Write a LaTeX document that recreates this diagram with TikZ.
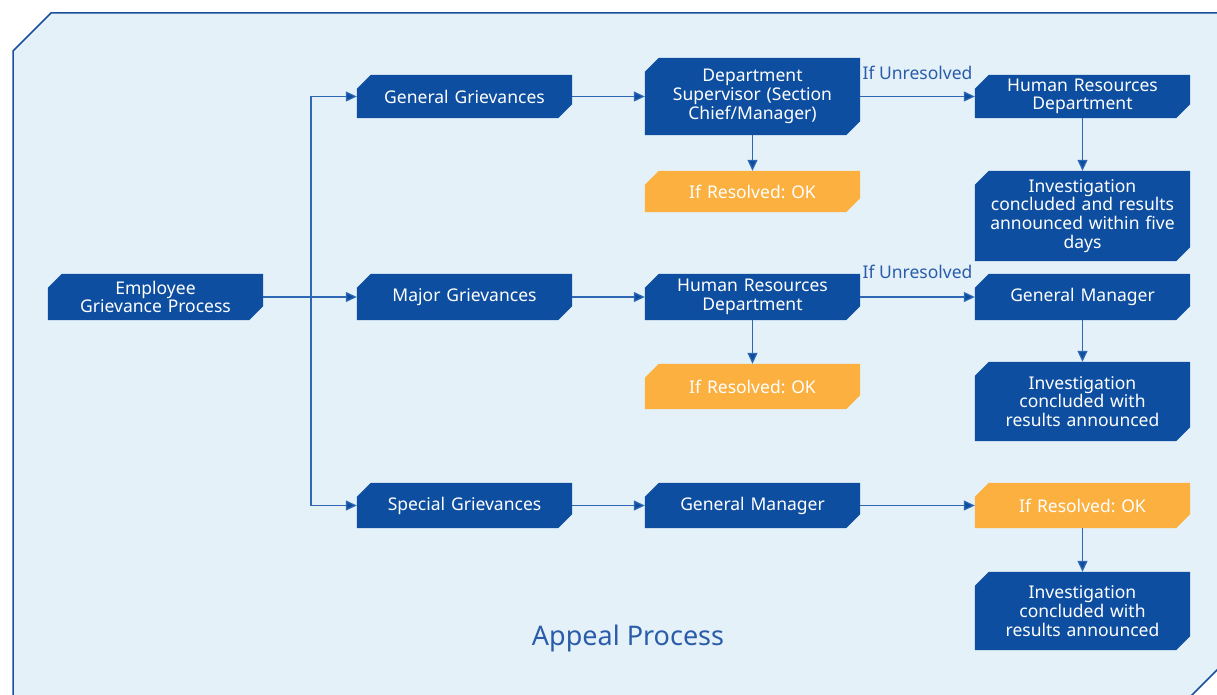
\documentclass[tikz,border=0pt]{standalone}
\usepackage{fontspec}
\setmainfont{Noto Sans}
\frenchspacing
\usetikzlibrary{arrows.meta}
\definecolor{nodeblue}{HTML}{0D4EA0}
\definecolor{okorange}{HTML}{FBB040}
\definecolor{panelfill}{HTML}{E4F1F9}
\definecolor{panelline}{HTML}{1A4F9E}
\definecolor{linkblue}{HTML}{2E67B3}
\definecolor{labelblue}{HTML}{2A5CAA}
\pgfdeclarelayer{panel}
\pgfdeclarelayer{shapes}
\pgfsetlayers{panel,shapes,main}
\tikzset{
  chamfill/.style={append after command={\pgfextra{%
    \begin{pgfonlayer}{shapes}
    \fill[#1] ([xshift=14pt]\tikzlastnode.north west) -- (\tikzlastnode.north east)
      -- ([yshift=14pt]\tikzlastnode.south east) -- ([xshift=-14pt]\tikzlastnode.south east)
      -- (\tikzlastnode.south west) -- ([yshift=-14pt]\tikzlastnode.north west) -- cycle;
    \end{pgfonlayer}}}},
  box/.style={rectangle, chamfill=nodeblue, text=white, minimum width=215pt, text width=210pt,
    align=center, inner sep=0pt, font=\fontsize{17.5}{18.7}\selectfont},
  okbox/.style={rectangle, chamfill=okorange, text=white, minimum width=215pt, text width=210pt,
    align=center, inner sep=0pt, font=\fontsize{17.5}{18.7}\selectfont},
  arr/.style={draw=linkblue, line width=1.2pt, -{Triangle[length=11pt,width=10pt,fill=nodeblue]}},
  lnk/.style={draw=linkblue, line width=1.2pt},
  lbl/.style={text=labelblue, font=\fontsize{17.5}{18.7}\selectfont, inner sep=0pt}
}
\begin{document}
\begin{tikzpicture}[x=1pt,y=-1pt]
\useasboundingbox (0,0) rectangle (1217,695);
\begin{pgfonlayer}{panel}
\begin{scope}
\clip (0,0) rectangle (1217,695);
\filldraw[fill=panelfill, draw=panelline, line width=1.5pt]
  (13,51) -- (51,13) -- (1230,13) -- (1230,657) -- (1167,720) -- (13,720) -- cycle;
\end{scope}
\end{pgfonlayer}

\node[box, minimum height=46pt] (emp) at (155.5,297) {Employee\\Grievance Process};
\node[box, minimum height=43pt] (gen) at (464.5,96.5) {General Grievances};
\node[box, minimum height=46pt] (maj) at (464.5,297) {Major Grievances};
\node[box, minimum height=45pt] (spe) at (464.5,505.5) {Special Grievances};

\node[box, minimum height=77pt] (sup) at (752.5,96.5) {Department\\Supervisor (Section\\Chief/Manager)};
\node[okbox, minimum height=41pt] (ok1) at (752.5,191.5) {If Resolved: OK};
\node[box, minimum height=46pt] (hr2) at (752.5,297) {Human Resources\\Department};
\node[okbox, minimum height=45pt] (ok2) at (752.5,386.5) {If Resolved: OK};
\node[box, minimum height=45pt] (gm2) at (752.5,505.5) {General Manager};

\node[box, minimum height=43pt] (hr1) at (1082.5,96.5) {Human Resources\\Department};
\node[box, minimum height=90pt] (inv1) at (1082.5,216) {Investigation\\concluded and results\\announced within five\\days};
\node[box, minimum height=46pt] (gm1) at (1082.5,297) {General Manager};
\node[box, minimum height=79pt] (inv2) at (1082.5,401.5) {Investigation\\concluded with\\results announced};
\node[okbox, minimum height=45pt] (ok3) at (1082.5,505.5) {If Resolved: OK};
\node[box, minimum height=78pt] (inv3) at (1082.5,611) {Investigation\\concluded with\\results announced};

\coordinate (t) at (311,297);
\draw[lnk] (emp.east) -- (t);
\draw[arr] (t) |- (gen.west);
\draw[arr] (t) -- (maj.west);
\draw[arr] (t) |- (spe.west);

\draw[arr] (gen) -- (sup);
\draw[arr] (sup) -- (hr1) node[lbl, midway, above=16pt] {If Unresolved};
\draw[arr] (sup) -- (ok1);
\draw[arr] (hr1) -- (inv1);

\draw[arr] (maj) -- (hr2);
\draw[arr] (hr2) -- (gm1) node[lbl, midway, above=18pt] {If Unresolved};
\draw[arr] (hr2) -- (ok2);
\draw[arr] (gm1) -- (inv2);

\draw[arr] (spe) -- (gm2);
\draw[arr] (gm2) -- (ok3);
\draw[arr] (ok3) -- (inv3);

\node[text=labelblue, font=\fontsize{27}{30}\selectfont, inner sep=0pt] (title) at (628,638) {Appeal Process};
\end{tikzpicture}
\end{document}
